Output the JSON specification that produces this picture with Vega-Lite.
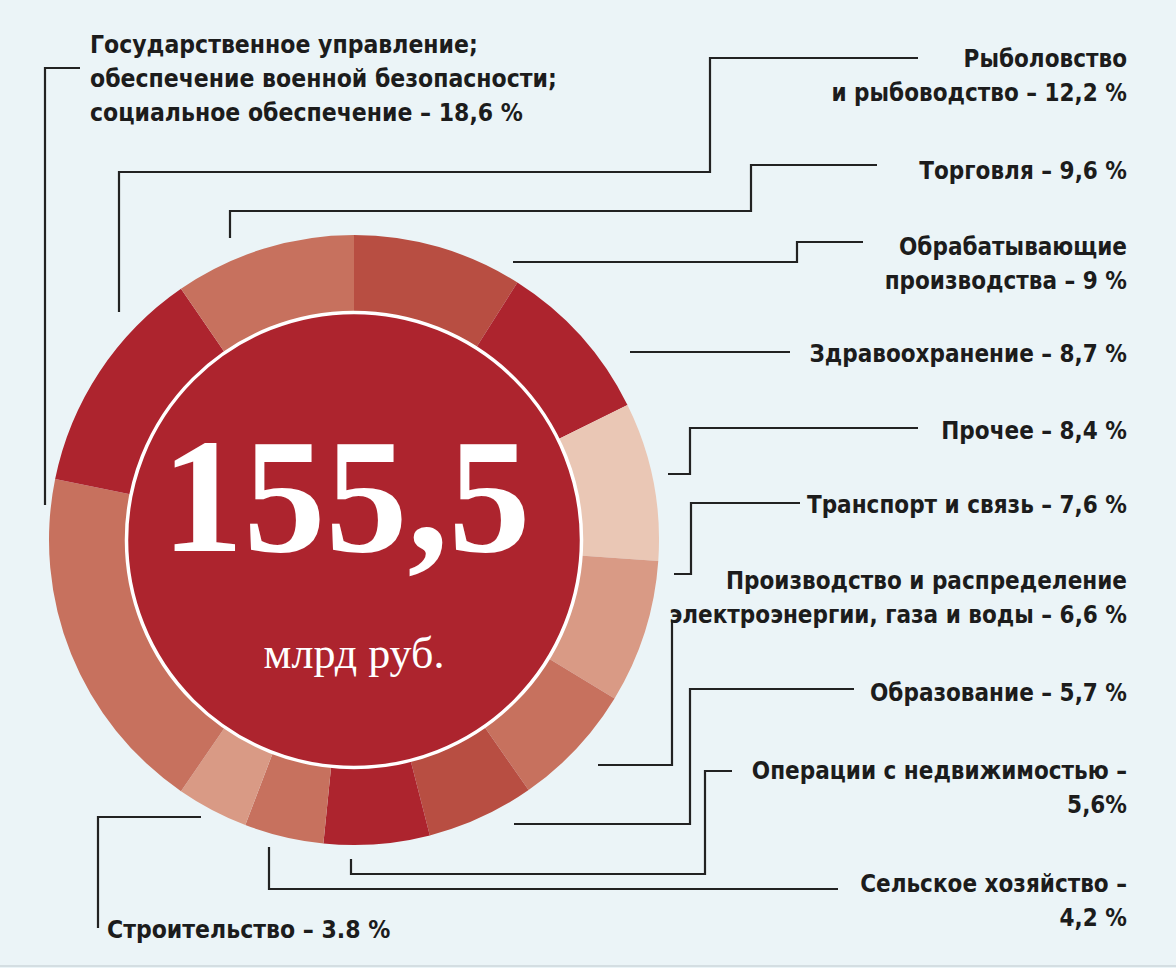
{
  "$schema": "https://vega.github.io/schema/vega-lite/v6.json",
  "width": 1176,
  "height": 968,
  "autosize": {"type": "none"},
  "padding": 0,
  "background": "#ebf4f7",
  "config": {"view": {"stroke": null}},
  "datasets": {
    "sectors": [
      {"ord": 1, "category": "Обрабатывающие производства", "value": 9.0},
      {"ord": 2, "category": "Здравоохранение", "value": 8.7},
      {"ord": 3, "category": "Прочее", "value": 8.4},
      {"ord": 4, "category": "Транспорт и связь", "value": 7.6},
      {"ord": 5, "category": "Производство и распределение электроэнергии, газа и воды", "value": 6.6},
      {"ord": 6, "category": "Образование", "value": 5.7},
      {"ord": 7, "category": "Операции с недвижимостью", "value": 5.6},
      {"ord": 8, "category": "Сельское хозяйство", "value": 4.2},
      {"ord": 9, "category": "Строительство", "value": 3.8},
      {"ord": 10, "category": "Государственное управление; обеспечение военной безопасности; социальное обеспечение", "value": 18.6},
      {"ord": 11, "category": "Рыболовство и рыбоводство", "value": 12.2},
      {"ord": 12, "category": "Торговля", "value": 9.6}
    ],
    "center": [{"total": "155,5", "unit": "млрд руб."}],
    "rightLabels": [
      {"category": "Рыболовство и рыбоводство", "text": ["Рыболовство", "и рыбоводство – 12,2 %"], "px": 1127, "py": 67},
      {"category": "Торговля", "text": ["Торговля – 9,6 %"], "px": 1127, "py": 179},
      {"category": "Обрабатывающие производства", "text": ["Обрабатывающие", "производства – 9 %"], "px": 1127, "py": 255},
      {"category": "Здравоохранение", "text": ["Здравоохранение – 8,7 %"], "px": 1127, "py": 362},
      {"category": "Прочее", "text": ["Прочее – 8,4 %"], "px": 1127, "py": 439},
      {"category": "Транспорт и связь", "text": ["Транспорт и связь – 7,6 %"], "px": 1127, "py": 513},
      {"category": "Производство и распределение электроэнергии, газа и воды", "text": ["Производство и распределение", "электроэнергии, газа и воды – 6,6 %"], "px": 1127, "py": 589},
      {"category": "Образование", "text": ["Образование – 5,7 %"], "px": 1127, "py": 701},
      {"category": "Операции с недвижимостью", "text": ["Операции с недвижимостью –", "5,6%"], "px": 1127, "py": 779},
      {"category": "Сельское хозяйство", "text": ["Сельское хозяйство –", "4,2 %"], "px": 1127, "py": 892}
    ],
    "leftLabels": [
      {"category": "Государственное управление; обеспечение военной безопасности; социальное обеспечение", "text": ["Государственное управление;", "обеспечение военной безопасности;", "социальное обеспечение – 18,6 %"], "px": 90, "py": 53},
      {"category": "Строительство", "text": ["Строительство – 3.8 %"], "px": 107, "py": 938}
    ],
    "leaders": [
      {"id": "gos", "seq": 1, "px": 80, "py": 68},
      {"id": "gos", "seq": 2, "px": 45, "py": 68},
      {"id": "gos", "seq": 3, "px": 45, "py": 505},
      {"id": "ryb", "seq": 1, "px": 918, "py": 58},
      {"id": "ryb", "seq": 2, "px": 710, "py": 58},
      {"id": "ryb", "seq": 3, "px": 710, "py": 172},
      {"id": "ryb", "seq": 4, "px": 119, "py": 172},
      {"id": "ryb", "seq": 5, "px": 119, "py": 312},
      {"id": "torg", "seq": 1, "px": 877, "py": 165},
      {"id": "torg", "seq": 2, "px": 751, "py": 165},
      {"id": "torg", "seq": 3, "px": 751, "py": 211},
      {"id": "torg", "seq": 4, "px": 230, "py": 211},
      {"id": "torg", "seq": 5, "px": 230, "py": 238},
      {"id": "obr", "seq": 1, "px": 863, "py": 242},
      {"id": "obr", "seq": 2, "px": 797, "py": 242},
      {"id": "obr", "seq": 3, "px": 797, "py": 262},
      {"id": "obr", "seq": 4, "px": 513, "py": 262},
      {"id": "zdr", "seq": 1, "px": 790, "py": 352},
      {"id": "zdr", "seq": 2, "px": 630, "py": 352},
      {"id": "pro", "seq": 1, "px": 918, "py": 428},
      {"id": "pro", "seq": 2, "px": 690, "py": 428},
      {"id": "pro", "seq": 3, "px": 690, "py": 474},
      {"id": "pro", "seq": 4, "px": 668, "py": 474},
      {"id": "tra", "seq": 1, "px": 800, "py": 503},
      {"id": "tra", "seq": 2, "px": 691, "py": 503},
      {"id": "tra", "seq": 3, "px": 691, "py": 574},
      {"id": "tra", "seq": 4, "px": 674, "py": 574},
      {"id": "ele", "seq": 1, "px": 672, "py": 620},
      {"id": "ele", "seq": 2, "px": 672, "py": 765},
      {"id": "ele", "seq": 3, "px": 598, "py": 765},
      {"id": "edu", "seq": 1, "px": 854, "py": 689},
      {"id": "edu", "seq": 2, "px": 690, "py": 689},
      {"id": "edu", "seq": 3, "px": 690, "py": 824},
      {"id": "edu", "seq": 4, "px": 514, "py": 824},
      {"id": "ned", "seq": 1, "px": 732, "py": 771},
      {"id": "ned", "seq": 2, "px": 705, "py": 771},
      {"id": "ned", "seq": 3, "px": 705, "py": 874},
      {"id": "ned", "seq": 4, "px": 351, "py": 874},
      {"id": "ned", "seq": 5, "px": 351, "py": 859},
      {"id": "sel", "seq": 1, "px": 838, "py": 889},
      {"id": "sel", "seq": 2, "px": 269, "py": 889},
      {"id": "sel", "seq": 3, "px": 269, "py": 847},
      {"id": "str", "seq": 1, "px": 98, "py": 928},
      {"id": "str", "seq": 2, "px": 98, "py": 817},
      {"id": "str", "seq": 3, "px": 201, "py": 817}
    ]
  },
  "layer": [
    {
      "data": {"name": "leaders"},
      "mark": {"type": "line", "stroke": "#222222", "strokeWidth": 2.2, "strokeJoin": "miter", "strokeCap": "butt"},
      "encoding": {
        "x": {"field": "px", "type": "quantitative", "scale": {"domain": [0, 1176], "nice": false, "zero": false}, "axis": null},
        "y": {"field": "py", "type": "quantitative", "scale": {"domain": [0, 968], "nice": false, "zero": false, "reverse": true}, "axis": null},
        "detail": {"field": "id"},
        "order": {"field": "seq"}
      }
    },
    {
      "data": {"name": "sectors"},
      "mark": {"type": "arc", "outerRadius": 305, "innerRadius": 226},
      "encoding": {
        "x": {"datum": 354, "type": "quantitative"},
        "y": {"datum": 540, "type": "quantitative"},
        "theta": {"field": "value", "type": "quantitative", "stack": true},
        "order": {"field": "ord"},
        "color": {
          "field": "category",
          "type": "nominal",
          "scale": {
            "domain": [
              "Обрабатывающие производства",
              "Здравоохранение",
              "Прочее",
              "Транспорт и связь",
              "Производство и распределение электроэнергии, газа и воды",
              "Образование",
              "Операции с недвижимостью",
              "Сельское хозяйство",
              "Строительство",
              "Государственное управление; обеспечение военной безопасности; социальное обеспечение",
              "Рыболовство и рыбоводство",
              "Торговля"
            ],
            "range": ["#b84e42", "#ad242e", "#eac7b5", "#d99a85", "#c7715e", "#b84e42", "#ad242e", "#c7715e", "#d99a85", "#c7715e", "#ad242e", "#c7715e"]
          },
          "legend": null
        }
      }
    },
    {
      "data": {"name": "center"},
      "mark": {"type": "point", "shape": "circle", "filled": true, "fill": "#ad242e", "stroke": "#ffffff", "strokeWidth": 3.5, "opacity": 1, "fillOpacity": 1, "strokeOpacity": 1},
      "encoding": {
        "x": {"datum": 354, "type": "quantitative"},
        "y": {"datum": 540, "type": "quantitative"},
        "size": {"value": 207025}
      }
    },
    {
      "data": {"name": "center"},
      "mark": {"type": "text", "align": "center", "baseline": "alphabetic", "fill": "#ffffff", "font": "Liberation Serif", "fontWeight": "bold", "fontSize": 164},
      "encoding": {
        "x": {"datum": 346, "type": "quantitative"},
        "y": {"datum": 551, "type": "quantitative"},
        "text": {"field": "total"}
      }
    },
    {
      "data": {"name": "center"},
      "mark": {"type": "text", "align": "center", "baseline": "alphabetic", "fill": "#ffffff", "font": "Liberation Serif", "fontWeight": "normal", "fontSize": 44},
      "encoding": {
        "x": {"datum": 354, "type": "quantitative"},
        "y": {"datum": 668, "type": "quantitative"},
        "text": {"field": "unit"}
      }
    },
    {
      "data": {"name": "rightLabels"},
      "mark": {"type": "text", "align": "right", "baseline": "alphabetic", "fill": "#1c1c1c", "font": "DejaVu Sans Condensed, DejaVu Sans, sans-serif", "fontWeight": "bold", "fontSize": 24, "lineHeight": 34},
      "encoding": {
        "x": {"field": "px", "type": "quantitative"},
        "y": {"field": "py", "type": "quantitative"},
        "text": {"field": "text"}
      }
    },
    {
      "data": {"name": "leftLabels"},
      "mark": {"type": "text", "align": "left", "baseline": "alphabetic", "fill": "#1c1c1c", "font": "DejaVu Sans Condensed, DejaVu Sans, sans-serif", "fontWeight": "bold", "fontSize": 24.5, "lineHeight": 34},
      "encoding": {
        "x": {"field": "px", "type": "quantitative"},
        "y": {"field": "py", "type": "quantitative"},
        "text": {"field": "text"}
      }
    },
    {
      "data": {"name": "center"},
      "mark": {"type": "rule", "stroke": "#d4dee2", "strokeWidth": 2},
      "encoding": {
        "x": {"datum": 0, "type": "quantitative"},
        "x2": {"datum": 1176},
        "y": {"datum": 966, "type": "quantitative"}
      }
    }
  ]
}
